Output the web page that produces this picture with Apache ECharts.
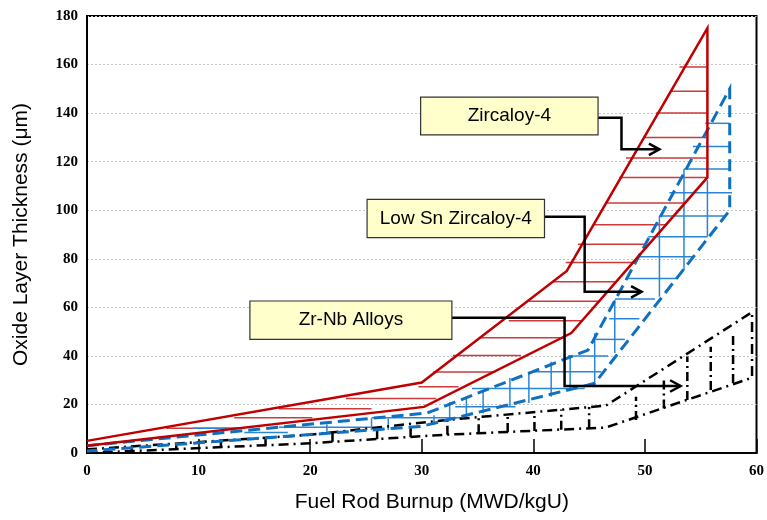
<!DOCTYPE html>
<html><head><meta charset="utf-8">
<script src="https://cdn.jsdelivr.net/npm/echarts@6/dist/echarts.min.js"></script>
<style>html,body{margin:0;padding:0;background:#fff}#c{width:767px;height:520px}</style>
</head><body><div id="c"></div>
<script>
// ---- axis ticks ----
const xTicks = [0, 10, 20, 30, 40, 50, 60];
const yTicks = [0, 20, 40, 60, 80, 100, 120, 140, 160, 180];

// ---- Zircaloy-4 band (red) ----
const zircUpper = [[0, 5], [30, 29], [43, 75], [55.6, 175]];
const zircLower = [[0, 3], [30.2, 19], [43.4, 49.4], [55.6, 113.5]];
// hatch: [y, xStart, xEnd]
const zircHatch = [
  [159, 53.1, 55.6], [149, 52.3, 55.6], [140, 51.0, 55.6], [130, 49.9, 55.6],
  [121.5, 48.3, 55.6], [113.5, 47.7, 55.6], [103, 46.5, 53.5], [94, 45.4, 52.0],
  [86, 44.0, 50.0], [78.5, 42.9, 49.2], [70.5, 41.7, 47.3], [62.5, 39.6, 46.0],
  [54.5, 37.8, 44.3], [47.5, 35.1, 42.8], [40.2, 32.8, 38.9], [33.4, 31.0, 36.6],
  [27.3, 29.7, 33.3], [22.5, 23.2, 31.3], [18.2, 17.2, 25.5], [14.5, 13.2, 20.2],
  [10.2, 7.1, 14.1]
];

// ---- Low Sn Zircaloy-4 band (blue) ----
const lowSnUpper = [[0, 3], [30.5, 16.5], [44.9, 42.4], [57.6, 150]];
const lowSnLower = [[0, 0.8], [30, 11], [45.5, 28.7], [57.6, 100]];
const lowSnHatchH = [
  [135.8, 55.4, 57.6], [126.2, 54.3, 57.6], [117, 53.5, 57.6], [107.2, 52.2, 57.8],
  [97.6, 51.3, 57.1], [89.1, 50.3, 55.6], [80.8, 49.4, 54.3], [71.9, 48.5, 52.9],
  [63.4, 47.3, 50.9], [55.3, 46.8, 49.5], [46.8, 45.6, 48.2], [40, 43.1, 46.7],
  [33.5, 39.7, 46.1], [26.6, 34.5, 44.6], [19.1, 33.0, 38.4], [14.5, 25.5, 33.9],
  [10.6, 17.2, 25.5], [10.2, 9.5, 14.1], [8.4, 14.1, 18]
];
// hatch: [x, yStart, yEnd]
const lowSnHatchV = [
  [55.6, 89.1, 112.4], [53.5, 75.4, 117], [51.3, 64.4, 97.6], [47.3, 41.2, 63],
  [45.5, 28.7, 49.3], [43.3, 26.8, 40.4], [41.6, 23.2, 37.6], [39.6, 20.6, 33.5],
  [37.9, 19.1, 30.9], [35.5, 16.4, 26], [34, 14.7, 22.5], [32.5, 14.7, 21],
  [31.1, 11.5, 15.6], [27, 9.5, 14.3], [25.5, 9.5, 14.3], [21.5, 8.5, 11.8]
];

// ---- Zr-Nb Alloys band (black) ----
const zrNbUpper = [[0, 1.5], [20, 7.5], [32, 13.5], [46.5, 19.5], [59.6, 58]];
const zrNbLower = [[0, 0], [20, 4], [32, 7.5], [46.5, 10.5], [59.6, 31]];
const zrNbHatchV = [
  [4, 0.8, 2.7], [8, 1.6, 3.9], [12, 2.4, 5.1], [16, 3.2, 6.3], [22, 4.6, 8.5],
  [26, 5.7, 10.5], [29, 6.6, 12], [32.3, 7.5, 13.5], [35.1, 8.1, 14.8],
  [37.7, 8.6, 15.9], [40.1, 9.1, 16.9], [42.5, 9.6, 17.9], [45.0, 10.2, 18.9],
  [49.2, 13.6, 23.2], [51.7, 18.3, 31], [53.8, 21.8, 39.7], [55.9, 26, 43.8],
  [57.9, 28.8, 49.4]
];

// ---- callouts (data coordinates) ----
const calloutText = ['Zircaloy-4', 'Low Sn Zircaloy-4', 'Zr-Nb Alloys'];
const calloutBox = [[29.9, 131, 45.8, 146.6], [25.1, 88.7, 41.0, 104.5], [14.6, 46.8, 32.7, 62.6]];
const calloutArrow = [
  [[45.8, 138.1], [47.9, 138.1], [47.9, 125.1], [51.3, 125.1]],
  [[41.0, 97.3], [44.6, 97.3], [44.6, 66.4], [49.7, 66.4]],
  [[32.7, 55.7], [42.8, 55.7], [42.8, 27.6], [53.2, 27.6]]
];

const RED = '#c00000', RED_H = '#cc3a3a';
const BLUE = '#0f6fc0', BLUE_H = '#2a86d4';
const BLACK = '#000';

function band(upper, lower) {
  return upper.concat(lower.slice().reverse());
}

function segSeries(name, segs, color, width, dash, z) {
  return {
    type: 'custom', name: name, z: z, silent: true, clip: true,
    data: segs,
    renderItem: function (params, api) {
      const a = api.coord([api.value(0), api.value(1)]);
      const b = api.coord([api.value(2), api.value(3)]);
      return {
        type: 'line',
        shape: { x1: a[0], y1: a[1], x2: b[0], y2: b[1] },
        style: { stroke: color, lineWidth: width, lineDash: dash || null, lineCap: 'butt' }
      };
    }
  };
}

function lineSeries(name, pts, color, width, type, z) {
  return {
    type: 'line', name: name, data: pts, showSymbol: false, symbol: 'none',
    silent: true, z: z, animation: false,
    lineStyle: { color: color, width: width, type: type, cap: 'butt', join: 'miter' }
  };
}

const chart = echarts.init(document.getElementById('c'), null, { renderer: 'canvas' });

const option = {
  animation: false,
  backgroundColor: '#fff',
  grid: { left: 87, right: 8, top: 16, bottom: 67, show: true, borderColor: '#000', borderWidth: 2, backgroundColor: 'transparent' },
  xAxis: {
    type: 'value', min: xTicks[0], max: xTicks[xTicks.length - 1], interval: 10,
    name: 'Fuel Rod Burnup (MWD/kgU)', nameLocation: 'middle', nameGap: 39,
    nameTextStyle: { fontFamily: 'Liberation Sans', fontSize: 21, color: '#000', padding: [0, 0, 0, 20] },
    axisLine: { show: true, lineStyle: { color: '#000', width: 2 } },
    axisTick: { show: true, inside: true, length: 14, lineStyle: { color: '#000', width: 1.5 } },
    axisLabel: { fontFamily: 'Liberation Serif', fontWeight: 'bold', fontSize: 15, color: '#000', margin: 11 },
    splitLine: { show: false }
  },
  yAxis: {
    type: 'value', min: yTicks[0], max: yTicks[yTicks.length - 1], interval: 20,
    name: 'Oxide Layer Thickness (\u03bcm)', nameLocation: 'middle', nameGap: 55,
    nameTextStyle: { fontFamily: 'Liberation Sans', fontSize: 21, color: '#000' },
    axisLine: { show: true, lineStyle: { color: '#000', width: 2 } },
    axisTick: { show: false },
    axisLabel: { fontFamily: 'Liberation Serif', fontWeight: 'bold', fontSize: 15, color: '#000', margin: 9 },
    splitLine: { show: true, lineStyle: { color: '#c4c4c4', type: [2, 2], width: 1 } }
  },
  series: [
    // hatching
    segSeries('zircHatch', zircHatch.map(h => [h[1], h[0], h[2], h[0]]), RED_H, 1.5, null, 2),
    segSeries('lowSnHatchH', lowSnHatchH.map(h => [h[1], h[0], h[2], h[0]]), BLUE_H, 1.5, null, 3),
    segSeries('lowSnHatchV', lowSnHatchV.map(h => [h[0], h[1], h[0], h[2]]), BLUE_H, 1.5, null, 3),
    segSeries('zrNbHatch', zrNbHatchV.map(h => [h[0], h[1], h[0], h[2]]), BLACK, 2.5, [9, 4, 2, 4], 3),
    // boundaries
    lineSeries('Zr-Nb Alloys', band(zrNbUpper, zrNbLower), BLACK, 2.5, [10, 5, 2, 5], 5),
    lineSeries('Low Sn Zircaloy-4', band(lowSnUpper, lowSnLower), BLUE, 3, [12, 6], 6),
    lineSeries('Zircaloy-4', band(zircUpper, zircLower), RED, 2.5, 'solid', 7),
    // callout boxes
    {
      type: 'custom', name: 'boxes', z: 10, silent: true, clip: false,
      data: calloutBox,
      renderItem: function (params, api) {
        const a = api.coord([api.value(0), api.value(3)]);
        const b = api.coord([api.value(2), api.value(1)]);
        const w = b[0] - a[0], h = b[1] - a[1];
        return {
          type: 'group',
          children: [
            { type: 'rect', shape: { x: a[0], y: a[1], width: w, height: h },
              style: { fill: '#ffffcc', stroke: '#333', lineWidth: 1.2 } },
            { type: 'text', style: { text: calloutText[params.dataIndex], x: a[0] + w / 2, y: a[1] + h / 2,
                align: 'center', verticalAlign: 'middle', font: '19px "Liberation Sans"', fill: '#000' } }
          ]
        };
      }
    },
    // callout arrows
    {
      type: 'custom', name: 'arrows', z: 9, silent: true, clip: false,
      data: calloutArrow.map((a, i) => [a[0][0], a[0][1], i]),
      renderItem: function (params, api) {
        const pts = calloutArrow[params.dataIndex].map(p => api.coord(p));
        const e = pts[pts.length - 1], s = pts[pts.length - 2];
        const ang = Math.atan2(e[1] - s[1], e[0] - s[0]);
        const L = 12, W = 0.5;
        const h1 = [e[0] - L * Math.cos(ang - W), e[1] - L * Math.sin(ang - W)];
        const h2 = [e[0] - L * Math.cos(ang + W), e[1] - L * Math.sin(ang + W)];
        return {
          type: 'group',
          children: [
            { type: 'polyline', shape: { points: pts }, style: { stroke: '#000', lineWidth: 2.5, fill: null, lineJoin: 'miter' } },
            { type: 'polyline', shape: { points: [h1, e, h2] }, style: { stroke: '#000', lineWidth: 2.5, fill: null, lineJoin: 'miter' } }
          ]
        };
      }
    }
  ]
};
chart.setOption(option);
</script>
</body></html>
